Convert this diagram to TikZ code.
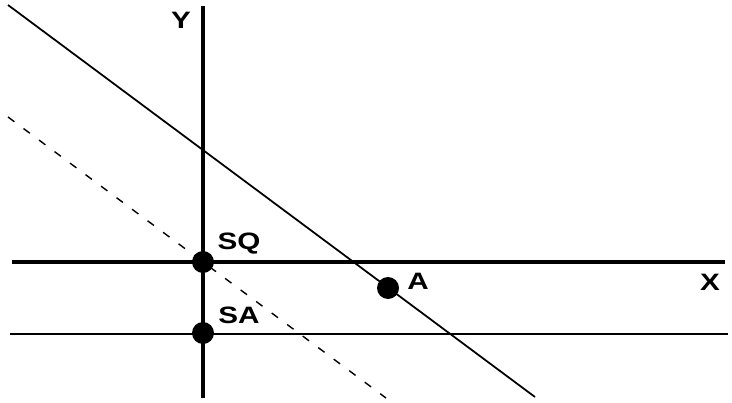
\documentclass[tikz,border=0pt]{standalone}
\usepackage{fontspec}
\usepackage{graphicx}
\setmainfont{Liberation Sans}
\usetikzlibrary{positioning}
\newcommand{\widelbl}[1]{\scalebox{1.25}[1]{#1}}

\begin{document}
\begin{tikzpicture}[x=0.02cm, y=-0.02cm,
    axis/.style={line width=2pt, black},
    level/.style={line width=1.1pt, black},
    budget/.style={line width=1pt, black},
    shifted/.style={line width=0.8pt, black, dash pattern=on 4.5pt off 6.5pt},
    dot/.style={circle, fill=black, inner sep=0pt, minimum size=0.44cm},
    lbl/.style={font=\fontsize{13.5}{16}\selectfont\bfseries, inner sep=0pt}
]
\useasboundingbox (0,0) rectangle (732,402);

% end points
\coordinate (ybot) at (203,398);
\coordinate (ytop) at (203,6);
\coordinate (xl) at (12,262);
\coordinate (xr) at (725,262);
\coordinate (ll) at (10,334);
\coordinate (lr) at (728,334);
\coordinate (bs) at (8,5);
\coordinate (be) at (535,397);
\coordinate (ds) at (8,117);
\coordinate (de) at (386,398);

% lines
\draw[shifted] (ds) -- (de);
\draw[budget] (bs) -- (be);
\draw[level] (ll) -- (lr);
\draw[axis] (xl) -- (xr);
\draw[axis] (ybot) -- (ytop);

% points
\node[dot] (sq) at (203,262) {};
\node[dot] (sa) at (203,333) {};
\node[dot] (a) at (388,288) {};

% labels
\node[lbl] (ylab) at (181,20) {\widelbl{Y}};
\node[lbl] (xlab) at (710,282) {\widelbl{X}};
\node[lbl] (sqlab) at (239,244) {\widelbl{SQ}};
\node[lbl] (salab) at (239,315) {\widelbl{SA}};
\node[lbl] (alab) at (418,281) {\widelbl{A}};
\end{tikzpicture}
\end{document}
